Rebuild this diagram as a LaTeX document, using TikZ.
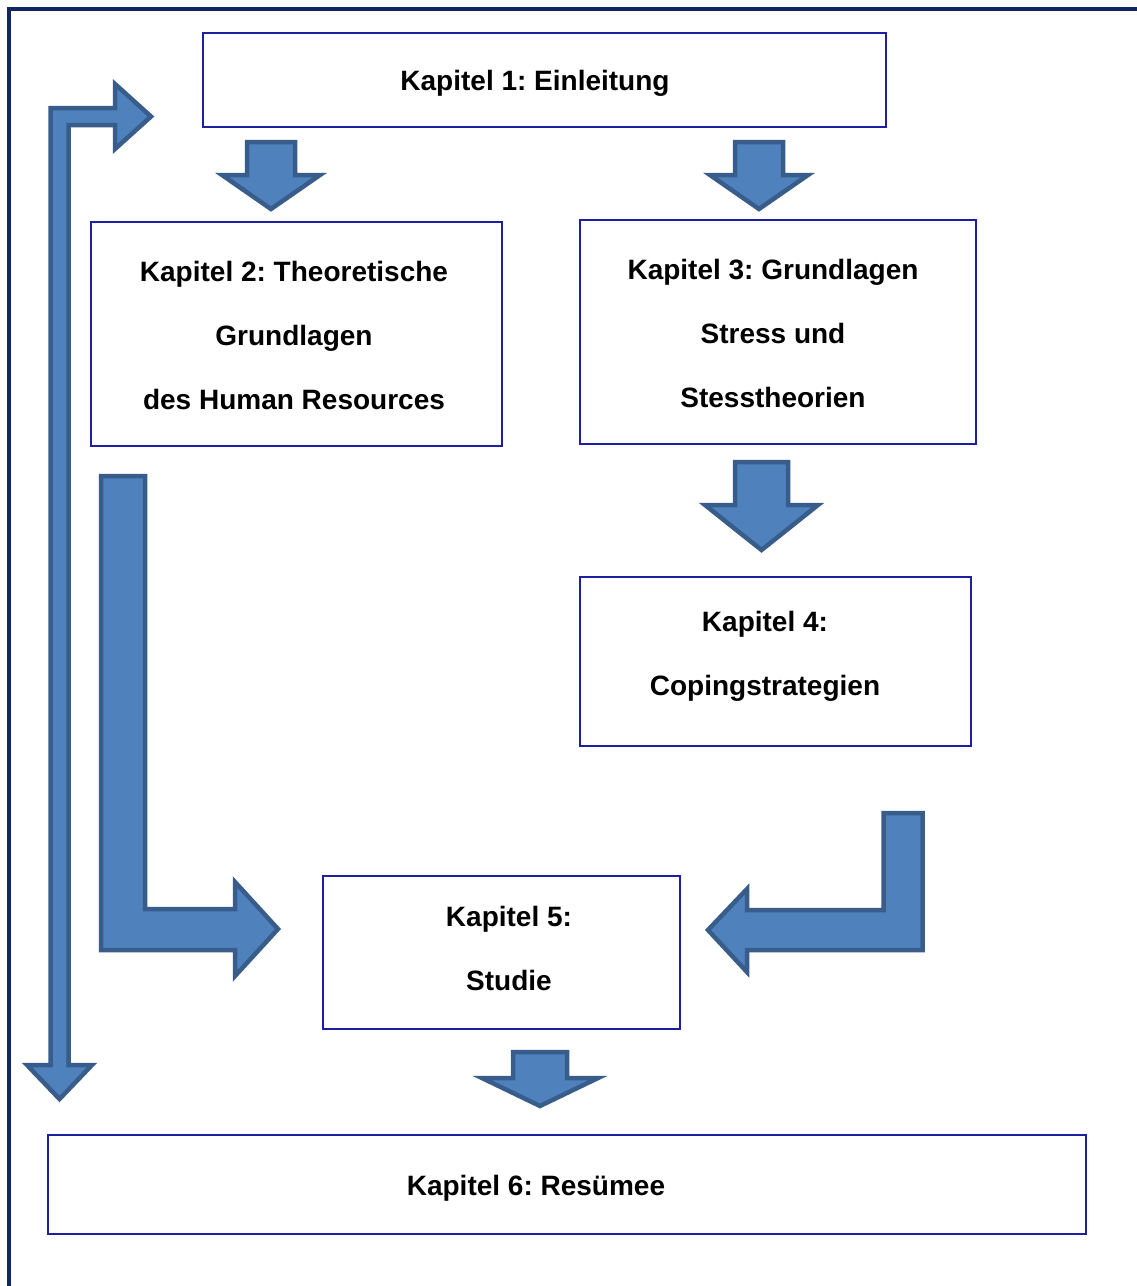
\documentclass[tikz,border=0pt]{standalone}
\usepackage{fontspec}
\setmainfont{Liberation Sans}
\frenchspacing
\definecolor{arrowfill}{RGB}{79,129,189}
\definecolor{arrowline}{RGB}{56,93,138}
\definecolor{boxline}{RGB}{30,30,165}
\definecolor{frameline}{RGB}{16,38,96}
\begin{document}
\begin{tikzpicture}[x=1pt,y=-1pt,
  chapbox/.style={draw=boxline, line width=1.5pt, fill=white, inner sep=0pt},
  chaptext/.style={font=\fontsize{28}{64}\selectfont\bfseries, align=center, inner sep=0pt},
  blockarrow/.style={fill=arrowfill, draw=arrowline, line width=4.5pt, line join=miter, miter limit=10}]
\useasboundingbox (0,0) rectangle (1136,1286);
\fill[white] (0,0) rectangle (1136,1286);

% outer frame (left and top edges)
\draw[frameline, line width=4pt] (9,1290) -- (9,9) -- (1140,9);

% chapter boxes
\node[chapbox, minimum width=683pt, minimum height=94pt]  (k1) at (544.5,80) {};
\node[chapbox, minimum width=411pt, minimum height=224pt] (k2) at (296.5,334) {};
\node[chapbox, minimum width=396pt, minimum height=224pt] (k3) at (778,332) {};
\node[chapbox, minimum width=391pt, minimum height=169pt] (k4) at (775.5,661.5) {};
\node[chapbox, minimum width=357pt, minimum height=153pt] (k5) at (501.5,952.5) {};
\node[chapbox, minimum width=1038pt, minimum height=99pt] (k6) at (567,1184.5) {};

% chapter titles
\node[chaptext] (t1) at (535,83) {Kapitel 1: Einleitung};
\node[chaptext] (t2) at (294,335) {Kapitel 2: Theoretische\\Grundlagen\\des Human Resources};
\node[chaptext] (t3) at (773,333) {Kapitel 3: Grundlagen\\Stress und\\Stesstheorien};
\node[chaptext] (t4) at (765,656) {Kapitel 4:\\Copingstrategien};
\node[chaptext] (t5) at (509,948) {Kapitel 5:\\Studie};
\node[chaptext] (t6) at (536,1188) {Kapitel 6: Resümee};

% block arrows: chapter 1 to chapters 2 and 3
\draw[blockarrow] (247,142) -- (295,142) -- (295,175) -- (320,175) -- (271,209)
  -- (222,175) -- (247,175) -- cycle;
\draw[blockarrow] (735,142) -- (783,142) -- (783,175) -- (808,175) -- (759,209)
  -- (710,175) -- (735,175) -- cycle;

% chapter 3 to chapter 4
\draw[blockarrow] (735,462) -- (788,462) -- (788,505) -- (818,505) -- (761.5,550)
  -- (705,505) -- (735,505) -- cycle;

% chapter 5 to chapter 6
\draw[blockarrow] (513,1052) -- (567,1052) -- (567,1078) -- (598,1078) -- (540,1106)
  -- (482,1078) -- (513,1078) -- cycle;

% chapter 2 down and into chapter 5
\draw[blockarrow] (101,476) -- (145,476) -- (145,909) -- (235,909) -- (235,882)
  -- (278,929) -- (235,976) -- (235,950) -- (101,950) -- cycle;

% chapter 4 down and into chapter 5
\draw[blockarrow] (922.5,813) -- (922.5,950) -- (747,950) -- (747,972) -- (708,930)
  -- (747,889) -- (747,910) -- (883.5,910) -- (883.5,813) -- cycle;

% feedback arrow between chapter 1 and chapter 6
\draw[blockarrow] (50.5,1065) -- (27,1065) -- (59.5,1099) -- (92,1065) -- (68.5,1065)
  -- (68.5,125) -- (115,125) -- (115,149) -- (151,116.5) -- (115,84) -- (115,108)
  -- (50.5,108) -- cycle;
\end{tikzpicture}
\end{document}
